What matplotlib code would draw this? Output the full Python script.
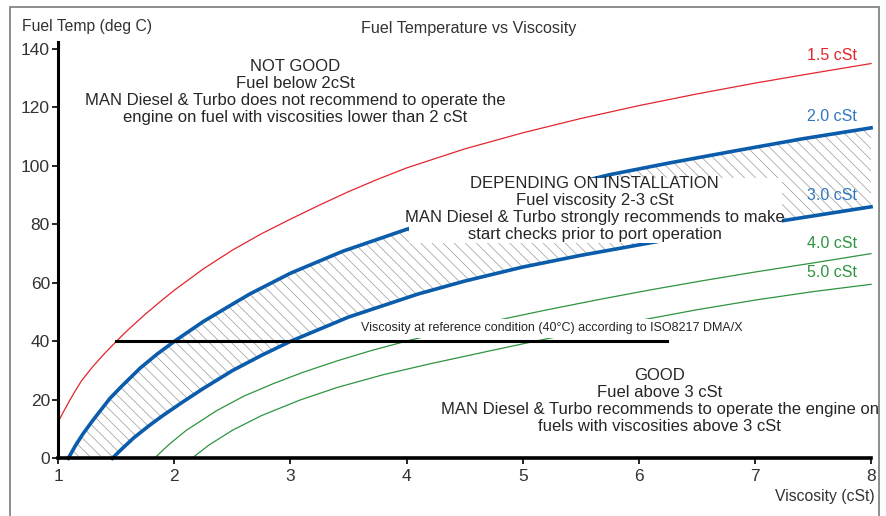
import matplotlib
matplotlib.use("Agg")
import matplotlib.pyplot as plt
from matplotlib.patches import Rectangle, Polygon

# --- Data (viscosity in cSt, temperature in deg C) ---
visc_15 = [1.0, 1.05, 1.1, 1.15, 1.2, 1.3, 1.4, 1.5, 1.6, 1.75, 1.9, 2.0, 2.25, 2.5, 2.75,
           3.0, 3.25, 3.5, 3.75, 4.0, 4.5, 5.0, 5.5, 6.0, 6.5, 7.0, 7.5, 8.0]
temp_15 = [12.5, 16.3, 19.9, 23.3, 26.5, 31.5, 35.9, 40.0, 43.9, 49.3, 54.3, 57.5, 64.8, 71.2, 76.8,
           81.8, 86.6, 91.2, 95.4, 99.3, 105.8, 111.3, 116.2, 120.6, 124.6, 128.3, 131.7, 135.0]

visc_20 = [1.086, 1.15, 1.215, 1.3, 1.445, 1.55, 1.704, 1.85, 2.0, 2.25, 2.5, 2.65, 3.0, 3.45,
           4.0, 4.5, 5.0, 5.75, 6.25, 6.81, 7.4, 8.0]
temp_20 = [0, 4.5, 8.5, 13.1, 20.5, 24.8, 30.8, 35.6, 40, 46.8, 52.7, 56.2, 63.3, 70.8,
           78.3, 84.3, 89.7, 97.0, 100.9, 105.0, 109.2, 113.0]

visc_30 = [1.465, 1.55, 1.65, 1.79, 1.9, 2.077, 2.25, 2.5, 2.75, 3.0, 3.5, 4.1, 4.5, 5.0,
           5.5, 6.1, 6.6, 7.23, 8.0]
temp_30 = [0, 3.3, 7.0, 11.4, 14.6, 19.4, 23.9, 30.0, 35.2, 40.0, 48.3, 56.2, 60.6, 65.4,
           69.4, 73.7, 77.2, 81.2, 86.0]

visc_40 = [1.827, 1.95, 2.1, 2.364, 2.6, 2.85, 3.1, 3.4, 3.7, 4.03, 4.4, 4.78, 5.2, 5.67,
           6.1, 6.53, 7.0, 7.5, 8.0]
temp_40 = [0, 4.6, 9.5, 16.3, 21.3, 25.5, 29.3, 33.3, 36.9, 40.4, 43.9, 47.2, 50.7, 54.4,
           57.6, 60.6, 63.7, 66.8, 70.0]

visc_50 = [2.15, 2.3, 2.5, 2.75, 3.08, 3.4, 3.8, 4.2, 4.7, 5.15, 5.6, 6.0, 6.5, 7.0, 7.5, 8.0]
temp_50 = [0, 4.6, 9.6, 14.6, 19.9, 24.2, 28.6, 32.3, 36.6, 40.4, 44.0, 47.1, 50.8, 54.1, 57.0, 59.5]

ref_visc = [1.5, 6.24]  # reference line at 40 deg C
ref_temp = [40, 40]

curve_labels = ["1.5 cSt", "2.0 cSt", "3.0 cSt", "4.0 cSt", "5.0 cSt"]
label_temps = [137.9, 117.0, 90.0, 73.6, 63.4]

RED = "#e3262d"
BLUE = "#0b5cab"
BLUE_TXT = "#2f78c0"
GREEN = "#2f9440"
TXT = "#262626"

plt.rcParams["font.family"] = ["Liberation Sans", "DejaVu Sans"]
plt.rcParams["hatch.linewidth"] = 0.5
plt.rcParams["hatch.color"] = "#9a9a9a"

fig = plt.figure(figsize=(8.87, 5.16), dpi=100)
ax = fig.add_axes([0.0657, 0.1118, 0.9163, 0.807])

# outer grey frame
fig.patches.append(Rectangle((10 / 887, -0.05), 869 / 887, 1.05 - 7 / 516,
                             transform=fig.transFigure, fill=False,
                             edgecolor="#7a7a7a", linewidth=1.2))

# hatched band between 2.0 and 3.0 cSt
band = list(zip(visc_20, temp_20)) + list(zip(visc_30[::-1], temp_30[::-1]))
ax.add_patch(Polygon(band, closed=True, facecolor="none", edgecolor="#9a9a9a",
                     hatch="\\\\\\", linewidth=0, zorder=1))

ax.plot(visc_15, temp_15, color=RED, lw=0.9, zorder=2, clip_on=False)
ax.plot(visc_20, temp_20, color=BLUE, lw=2.6, zorder=2, clip_on=False)
ax.plot(visc_30, temp_30, color=BLUE, lw=2.6, zorder=2, clip_on=False)
ax.plot(visc_40, temp_40, color=GREEN, lw=0.9, zorder=2, clip_on=False)
ax.plot(visc_50, temp_50, color=GREEN, lw=0.9, zorder=2, clip_on=False)

# white boxes behind the notes
ax.add_patch(Rectangle((3.56, 41.1), 2.85, 6.5, facecolor="white",
                       edgecolor="none", zorder=3))
ax.add_patch(Rectangle((4.02, 73.5), 3.21, 22.5, facecolor="white",
                       edgecolor="none", zorder=3))

ax.plot(ref_visc, ref_temp, color="black", lw=2.2, zorder=4)

label_colors = [RED, BLUE_TXT, BLUE_TXT, GREEN, GREEN]
for txt, t, c in zip(curve_labels, label_temps, label_colors):
    ax.text(7.88, t, txt, color=c, fontsize=11.5, ha="right", va="center", zorder=5)

note_kw = dict(ha="center", va="center", fontsize=12, color=TXT, linespacing=1.16, zorder=5)
ax.text(3.04, 125.2,
        "NOT GOOD\nFuel below 2cSt\n"
        "MAN Diesel & Turbo does not recommend to operate the\n"
        "engine on fuel with viscosities lower than 2 cSt", **note_kw)
ax.text(5.62, 85.2,
        "DEPENDING ON INSTALLATION\nFuel viscosity 2-3 cSt\n"
        "MAN Diesel & Turbo strongly recommends to make\n"
        "start checks prior to port operation", **note_kw)
ax.text(6.18, 19.6,
        "GOOD\nFuel above 3 cSt\n"
        "MAN Diesel & Turbo recommends to operate the engine on\n"
        "fuels with viscosities above 3 cSt", **note_kw)
ax.text(3.61, 44.5,
        "Viscosity at reference condition (40\u00b0C) according to ISO8217 DMA/X",
        ha="left", va="center", fontsize=9, color=TXT, zorder=5)

ax.set_xlim(1, 8)
ax.set_ylim(0, 142.4)
ax.set_xticks(range(1, 9))
ax.set_yticks(range(0, 141, 20))
for s in ["top", "right"]:
    ax.spines[s].set_visible(False)
ax.spines["left"].set_linewidth(2.2)
ax.spines["bottom"].set_linewidth(2.6)
ax.tick_params(direction="out", length=4, width=1.2, labelsize=12.5,
               labelcolor="#333333")
ax.tick_params(axis="y", pad=2)
ax.tick_params(axis="x", pad=4)

fig.text(22 / 887, 1 - 27 / 516, "Fuel Temp (deg C)", fontsize=11.3,
         color="#333333", ha="left", va="center")
fig.text(469 / 887, 1 - 28 / 516, "Fuel Temperature vs Viscosity", fontsize=11.6,
         color="#333333", ha="center", va="center")
fig.text(875 / 887, 1 - 497 / 516, "Viscosity (cSt)", fontsize=11.3,
         color="#333333", ha="right", va="center")

fig.savefig("out.png", dpi=100)
